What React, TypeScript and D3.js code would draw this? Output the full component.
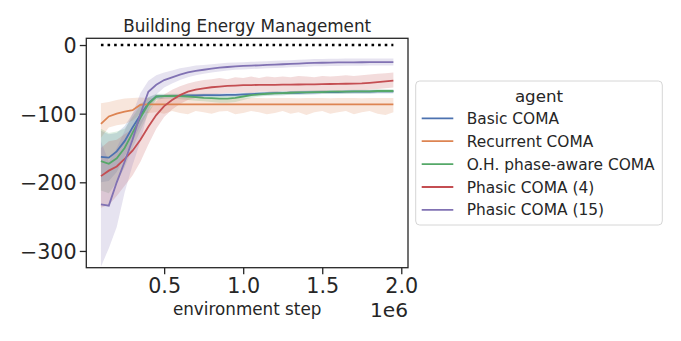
import { useEffect, useRef } from 'react';
import * as d3 from 'd3';

// pasos del entorno (x)
const steps = [
  100000, 150000, 200000, 250000, 300000, 350000, 400000, 450000, 500000, 550000,
  600000, 650000, 700000, 750000, 800000, 850000, 900000, 950000, 1000000, 1050000,
  1100000, 1150000, 1200000, 1250000, 1300000, 1350000, 1400000, 1450000, 1500000, 1550000,
  1600000, 1650000, 1700000, 1750000, 1800000, 1850000, 1900000, 1950000,
];

const agents = ['Basic COMA', 'Recurrent COMA', 'O.H. phase-aware COMA', 'Phasic COMA (4)', 'Phasic COMA (15)'];
const colors = ['#4c72b0', '#dd8452', '#55a868', '#c44e52', '#8172b3'];

const basicMean = [-163, -164, -155, -140, -120, -102, -85, -75, -74.5, -74, -74, -73.5, -73.5, -73, -73, -73, -72.5, -72.5, -72, -71.5, -71, -70.5, -70, -70, -69.5, -69.5, -69, -69, -68.5, -68.5, -68.5, -68, -68, -68, -68, -67.5, -67.5, -67.5];
const basicLo = [-200, -198, -185, -162, -140, -118, -95, -79, -78, -77.5, -77, -76.5, -76.5, -76, -76, -76, -75.5, -75.5, -75, -74.5, -74, -73.5, -73, -73, -72.5, -72.5, -72, -72, -71.5, -71.5, -71.5, -71, -71, -71, -71, -70.5, -70.5, -70.5];
const basicHi = [-125, -130, -128, -118, -100, -86, -76, -72, -72, -71.5, -71.5, -71, -71, -70.5, -70.5, -70.5, -70, -70, -69.5, -69, -68.5, -68, -67.5, -67.5, -67, -67, -66.5, -66.5, -66, -66, -66, -65.5, -65.5, -65.5, -65.5, -65, -65, -65];

const recurrentMean = [-115, -104, -100, -97, -95, -87, -86.5, -86.5, -86.5, -86.5, -86.5, -86.5, -86.5, -86.5, -86.5, -86.5, -86.5, -86.5, -86.5, -86.5, -86.5, -86.5, -86.5, -86.5, -86.5, -86.5, -86.5, -86.5, -86.5, -86.5, -86.5, -86.5, -86.5, -86.5, -86.5, -86.5, -86.5, -86.5];
const recurrentLo = [-135, -120, -117, -115, -110, -100, -99, -98, -100, -96, -99, -101, -96, -98, -100, -97, -96, -101, -99, -96, -98, -101, -99, -96, -100, -98, -102, -98, -96, -100, -98, -96, -101, -98, -96, -100, -102, -98];
const recurrentHi = [-85, -83, -80, -78, -77, -76.5, -77, -77, -77, -77.5, -77, -77, -77.5, -77, -77, -77.5, -77, -77, -77.5, -77, -77, -77.5, -77, -77, -77, -77.5, -77, -77, -77, -77.5, -77, -77, -77, -77.5, -77, -77, -77, -77];

const ohMean = [-169, -173, -165, -150, -128, -106, -86, -75, -74.5, -74, -74.5, -75, -76, -77, -77.5, -78, -78, -77, -75, -73, -72, -71, -70.5, -70, -69.5, -69, -69, -68.5, -68.5, -68, -68, -68, -67.5, -67.5, -67.5, -67, -67, -67];
const ohLo = [-212, -216, -200, -178, -150, -125, -100, -80, -78, -78, -79, -80, -81, -82, -83, -84, -84, -83, -80, -77, -75.5, -74, -73.5, -73, -72.5, -72, -72, -71.5, -71.5, -71, -71, -71, -70.5, -70.5, -70.5, -70, -70, -70];
const ohHi = [-122, -128, -126, -122, -105, -88, -76, -71, -71, -71, -71, -71, -71.5, -72, -72.5, -73, -73, -72, -71, -70, -69, -68.5, -68, -67.5, -67, -66.5, -66.5, -66, -66, -65.5, -65.5, -65.5, -65, -65, -65, -64.5, -64.5, -64.5];

const phasic4Mean = [-191, -183, -177, -166, -154, -138, -119, -102, -89, -80, -73, -68, -65, -63, -61.5, -60.5, -59.5, -59, -58.5, -58.3, -58.1, -58, -58, -57.8, -57.6, -57.5, -57.3, -57.2, -57, -56.8, -56.6, -56.4, -56.2, -56, -55, -54, -53, -52];
const phasic4Lo = [-237, -233, -220, -205, -190, -170, -145, -122, -105, -94, -86, -80, -77, -75, -72, -71, -70, -70, -69, -70, -68, -68, -69, -67, -68, -68, -67, -67, -68, -66, -67, -66, -66, -66, -65, -64, -63, -62];
const phasic4Hi = [-150, -140, -138, -130, -122, -110, -95, -82, -72, -65, -60, -56, -53, -51, -50, -48, -50, -47, -48, -46, -48, -46, -47, -46, -47, -45, -46, -47, -45, -46, -45, -44, -45, -44, -43, -42, -41, -40];

const phasic15Mean = [-232, -234, -200, -170, -138, -100, -68, -58, -51, -47, -43, -40, -37.5, -36, -34.5, -33, -32, -31, -30.5, -30, -29.5, -29, -28.5, -28, -27.5, -27, -26.5, -26, -25.8, -25.6, -25.4, -25.3, -25.2, -25.1, -25, -25, -25, -25];
const phasic15Lo = [-323, -296, -265, -215, -175, -140, -95, -72, -62, -56, -51, -47, -44, -42, -40, -38.5, -37, -36, -35.5, -35, -34.5, -34, -33.5, -33, -32.5, -32, -31.5, -31, -30.8, -30.6, -30.4, -30.3, -30.2, -30.1, -30, -30, -30, -30];
const phasic15Hi = [-140, -170, -150, -125, -100, -70, -52, -44, -40, -37, -34, -32, -30, -29, -28, -27, -26, -25.5, -25, -24.5, -24, -23.5, -23, -22.5, -22, -21.5, -21, -20.5, -20.3, -20.1, -19.9, -19.8, -19.7, -19.6, -19.5, -19.5, -19.5, -19.5];

const xTicks = [500000, 1000000, 1500000, 2000000];
const yTicks = [0, -100, -200, -300];
const optimum = 0;

const FONT = 'DejaVu Sans, sans-serif';
const INK = '#262626';

const App = () => {
  const svgRef = useRef(null);

  useEffect(() => {
    const svg = d3.select(svgRef.current);
    svg.selectAll('*').remove();

    const left = 86.3, right = 408, top = 38.3, bottom = 267.7;

    const x = d3.scaleLinear().domain([7500, 2042500]).range([left, right]);
    const y = d3.scaleLinear().domain([-324.4, 9.8]).range([bottom, top]);

    const series = [
      { mean: basicMean, lo: basicLo, hi: basicHi },
      { mean: recurrentMean, lo: recurrentLo, hi: recurrentHi },
      { mean: ohMean, lo: ohLo, hi: ohHi },
      { mean: phasic4Mean, lo: phasic4Lo, hi: phasic4Hi },
      { mean: phasic15Mean, lo: phasic15Lo, hi: phasic15Hi },
    ];

    const defs = svg.append('defs');
    defs.append('clipPath').attr('id', 'plotclip')
      .append('rect')
      .attr('x', left).attr('y', top)
      .attr('width', right - left).attr('height', bottom - top);

    const plot = svg.append('g').attr('clip-path', 'url(#plotclip)');

    // bandas (debajo de todas las líneas)
    series.forEach((s, k) => {
      const area = d3.area<number>()
        .x((_, i) => x(steps[i]))
        .y0((_, i) => y(s.lo[i]))
        .y1((_, i) => y(s.hi[i]));
      plot.append('path')
        .datum(s.mean)
        .attr('d', area)
        .attr('fill', colors[k])
        .attr('fill-opacity', 0.2)
        .attr('stroke', 'none');
    });

    // líneas
    series.forEach((s, k) => {
      const line = d3.line<number>()
        .x((_, i) => x(steps[i]))
        .y((d) => y(d));
      plot.append('path')
        .datum(s.mean)
        .attr('d', line)
        .attr('fill', 'none')
        .attr('stroke', colors[k])
        .attr('stroke-width', 1.8);
    });

    // línea punteada del óptimo
    plot.append('line')
      .attr('x1', x(steps[0])).attr('x2', x(steps[steps.length - 1]))
      .attr('y1', y(optimum)).attr('y2', y(optimum))
      .attr('stroke', '#000')
      .attr('stroke-width', 2.6)
      .attr('stroke-dasharray', '2.6 4');

    // ejes
    const yAxis = svg.append('g')
      .attr('transform', `translate(${left},0)`)
      .call(d3.axisLeft(y).tickValues(yTicks).tickSize(6.5).tickPadding(3.1));
    yAxis.select('.domain').remove();
    yAxis.selectAll('.tick line').attr('stroke', INK).attr('stroke-width', 1.3);
    yAxis.selectAll('.tick text')
      .attr('dy', '0.37em')
      .style('font-family', FONT)
      .style('font-size', '20.7px')
      .attr('fill', INK);

    const xAxis = svg.append('g')
      .attr('transform', `translate(0,${bottom})`)
      .call(d3.axisBottom(x).tickValues(xTicks).tickSize(6.5).tickPadding(4.6)
        .tickFormat((d) => d3.format('.1f')(+d / 1e6)));
    xAxis.select('.domain').remove();
    xAxis.selectAll('.tick line').attr('stroke', INK).attr('stroke-width', 1.3);
    xAxis.selectAll('.tick text')
      .style('font-family', FONT)
      .style('font-size', '20.7px')
      .attr('fill', INK);

    // marco
    svg.append('rect')
      .attr('x', left).attr('y', top)
      .attr('width', right - left).attr('height', bottom - top)
      .attr('fill', 'none')
      .attr('stroke', INK)
      .attr('stroke-width', 1.3);

    // textos
    svg.append('text')
      .attr('x', (left + right) / 2).attr('y', 31.5)
      .attr('text-anchor', 'middle')
      .style('font-family', FONT).style('font-size', '16.8px')
      .attr('fill', INK)
      .text('Building Energy Management');

    svg.append('text')
      .attr('x', (left + right) / 2).attr('y', 315)
      .attr('text-anchor', 'middle')
      .style('font-family', FONT).style('font-size', '16.8px')
      .attr('fill', INK)
      .text('environment step');

    svg.append('text')
      .attr('x', right).attr('y', 317)
      .attr('text-anchor', 'end')
      .style('font-family', FONT).style('font-size', '20.2px')
      .attr('fill', INK)
      .text('1e6');

    // leyenda
    const lg = svg.append('g').attr('transform', 'translate(415.7,81)');
    lg.append('rect')
      .attr('width', 246.6).attr('height', 144)
      .attr('rx', 4)
      .attr('fill', '#fff')
      .attr('stroke', '#d6d6d6')
      .attr('stroke-width', 1);
    lg.append('text')
      .attr('x', 123.3).attr('y', 20.5)
      .attr('text-anchor', 'middle')
      .style('font-family', FONT).style('font-size', '16.7px')
      .attr('fill', INK)
      .text('agent');
    agents.forEach((name, k) => {
      const cy = 37.3 + k * 22.9;
      lg.append('line')
        .attr('x1', 6).attr('x2', 37.6)
        .attr('y1', cy).attr('y2', cy)
        .attr('stroke', colors[k])
        .attr('stroke-width', 1.8);
      lg.append('text')
        .attr('x', 51).attr('y', cy + 5.5)
        .style('font-family', FONT).style('font-size', '15.4px')
        .attr('fill', INK)
        .text(name);
    });
  }, []);

  return (
    <svg
      ref={svgRef}
      width={681}
      height={341}
      style={{ position: 'absolute', left: 0, top: 0, background: '#fff' }}
    />
  );
};

export default App;
